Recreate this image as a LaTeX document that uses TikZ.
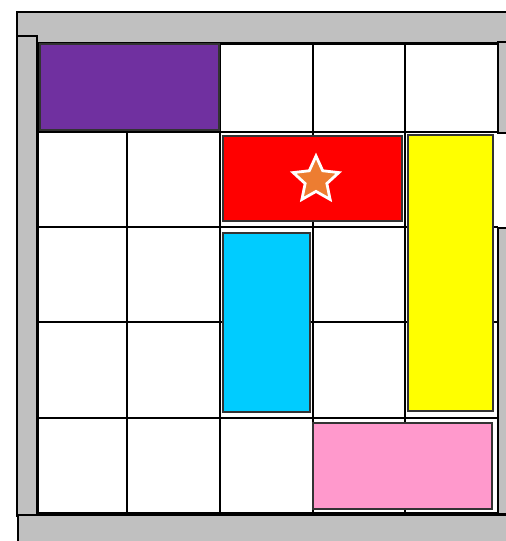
\documentclass[tikz,border=0pt]{standalone}
\usetikzlibrary{shapes.geometric}
\definecolor{wallgray}{HTML}{C0C0C0}
\definecolor{bpurple}{HTML}{7030A0}
\definecolor{bred}{HTML}{FF0000}
\definecolor{byellow}{HTML}{FFFF00}
\definecolor{bcyan}{HTML}{00CCFF}
\definecolor{bpink}{HTML}{FF99CC}
\definecolor{borange}{HTML}{ED7D31}
\tikzset{
  wall/.style={fill=wallgray, draw=black, line width=1.6pt},
  gridline/.style={draw=black, line width=2pt},
  block/.style={draw=black!80, line width=1.4pt},
  goalstar/.style={star, star points=5, star point ratio=2.1, minimum size=48pt, inner sep=0pt,
    fill=borange, draw=white, line width=2.8pt}
}
\begin{document}
\begin{tikzpicture}[x=1pt,y=-1pt]
\useasboundingbox (0,0) rectangle (506,541);
\clip (0,0) rectangle (506,541);
\fill[white] (0,0) rectangle (506,541);
% grid
\foreach \xx in {38,127,220,313,405}{\draw[gridline] (\xx,44) -- (\xx,513);}
\draw[gridline] (498,44) -- (498,132);
\draw[gridline] (498,227) -- (498,513);
\foreach \yy in {44,132,227,322,418,513}{\draw[gridline] (38,\yy) -- (498,\yy);}
% walls
\draw[wall] (17,12) rectangle (512,43);
\draw[wall] (17,36) rectangle (37,516);
\draw[wall] (18,515) rectangle (512,545);
\draw[wall] (498,42) rectangle (512,133);
\draw[wall] (498,228) rectangle (512,514);
% blocks
\draw[block, fill=bpurple] (40,44) rectangle (219,130);
\draw[block, fill=bred] (223,136) rectangle (402,221);
\draw[block, fill=byellow] (408,135) rectangle (493,411);
\draw[block, fill=bcyan] (223,233) rectangle (310,412);
\draw[block, fill=bpink] (313,423) rectangle (492,509);
\node[goalstar] (goal) at (316,180) {};
\end{tikzpicture}
\end{document}
